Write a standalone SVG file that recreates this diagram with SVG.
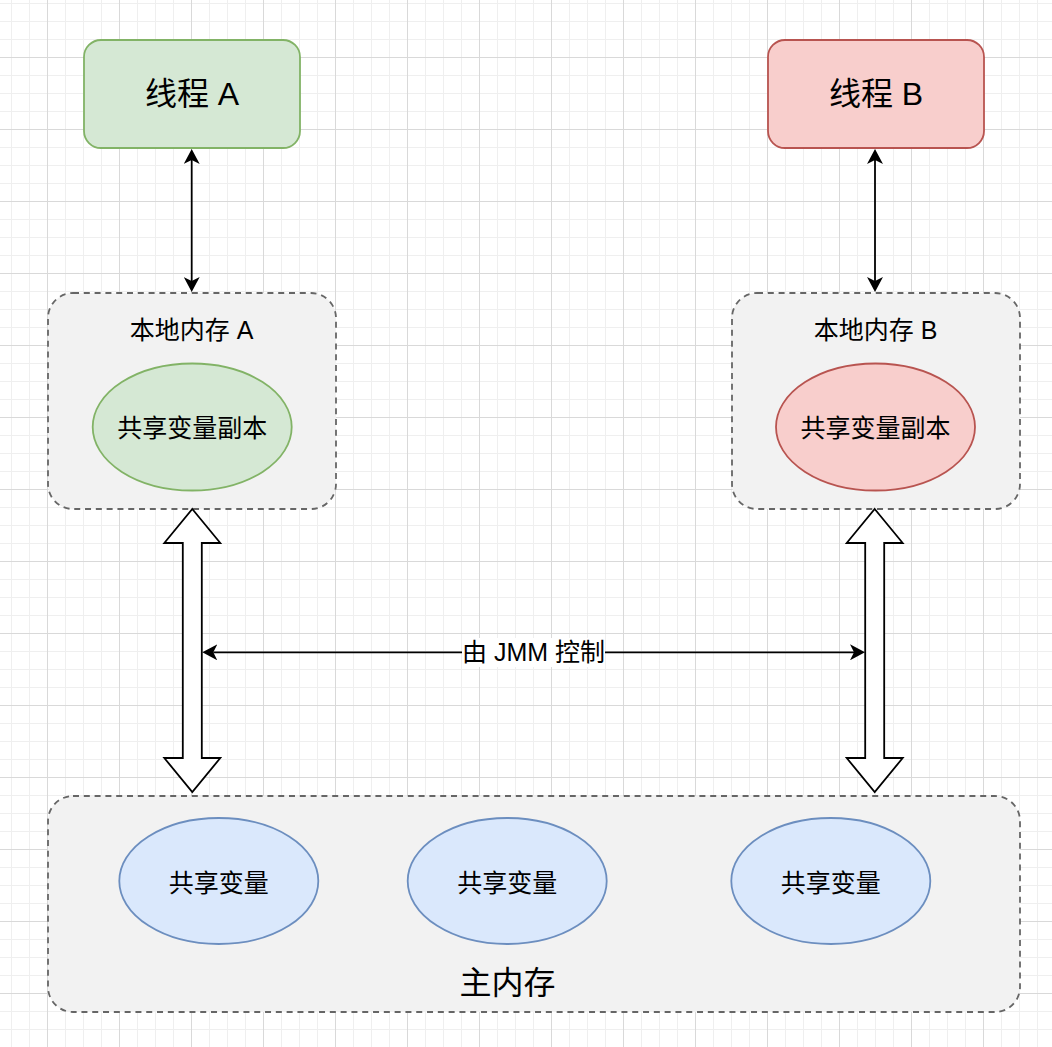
<svg xmlns="http://www.w3.org/2000/svg" width="1052" height="1047" viewBox="0 0 1052 1047">
<style>
text{font-family:"Liberation Sans","Noto Sans CJK SC",sans-serif;fill:#000;text-anchor:middle;dominant-baseline:central}
.t32{font-size:32px}
.t25{font-size:25px}
.box{fill:#f2f2f2;stroke:#666;stroke-width:1.8;stroke-dasharray:6 4.8}
.line{fill:none;stroke:#000;stroke-width:1.8}
.blk{fill:#fff;stroke:#000;stroke-width:1.8;stroke-linejoin:miter}
.green{fill:#d5e8d4;stroke:#82b366;stroke-width:1.8}
.red{fill:#f8cecc;stroke:#b85450;stroke-width:1.8}
.blue{fill:#dae8fc;stroke:#6c8ebf;stroke-width:1.8}
</style>
<defs>
<pattern id="grid" patternUnits="userSpaceOnUse" x="47" y="57" width="72" height="72">
<path d="M18.5,0V72M36.5,0V72M54.5,0V72M0,18.5H72M0,36.5H72M0,54.5H72" stroke="#efefef" stroke-width="1" fill="none"/>
<path d="M0.5,0V72M0,0.5H72" stroke="#d9d9d9" stroke-width="1" fill="none"/>
</pattern>
<marker id="arr" viewBox="0 0 15 16" refX="4" refY="8" markerWidth="15" markerHeight="16" markerUnits="userSpaceOnUse" orient="auto-start-reverse">
<path d="M0,0L15,8L0,16L4,8Z" fill="#000"/>
</marker>
</defs>
<rect x="0" y="0" width="1052" height="1047" fill="#fff"/>
<rect x="0" y="0" width="1052" height="1047" fill="url(#grid)"/>

<g id="thread-a">
<rect x="84" y="40" width="216" height="108" rx="17" ry="17" class="green"/>
<text x="192" y="94" class="t32">线程 A</text>
</g>
<g id="thread-b">
<rect x="768" y="40" width="216" height="108" rx="17" ry="17" class="red"/>
<text x="876" y="94" class="t32">线程 B</text>
</g>

<g id="local-a">
<rect x="48" y="293" width="288" height="216" rx="25" ry="25" class="box"/>
<text x="191.5" y="330" class="t25">本地内存 A</text>
</g>
<g id="copy-a">
<ellipse cx="192.2" cy="427" rx="99.5" ry="63.5" class="green"/>
<text x="192.2" y="428" class="t25">共享变量副本</text>
</g>
<g id="local-b">
<rect x="732" y="293" width="288" height="216" rx="25" ry="25" class="box"/>
<text x="875.5" y="330" class="t25">本地内存 B</text>
</g>
<g id="copy-b">
<ellipse cx="875.5" cy="427" rx="99.5" ry="63.5" class="red"/>
<text x="875.5" y="428" class="t25">共享变量副本</text>
</g>

<g id="main-memory">
<rect x="48" y="796" width="972" height="216" rx="25" ry="25" class="box"/>
<text x="507.5" y="983" class="t32">主内存</text>
</g>
<g id="var-1">
<ellipse cx="218.8" cy="881" rx="99.5" ry="63" class="blue"/>
<text x="218.8" y="882.5" class="t25">共享变量</text>
</g>
<g id="var-2">
<ellipse cx="507.2" cy="881" rx="99.5" ry="63" class="blue"/>
<text x="507.2" y="882.5" class="t25">共享变量</text>
</g>
<g id="var-3">
<ellipse cx="830.8" cy="881" rx="99.5" ry="63" class="blue"/>
<text x="830.8" y="882.5" class="t25">共享变量</text>
</g>

<g id="connectors">
<path d="M191.7,160V281" class="line" marker-start="url(#arr)" marker-end="url(#arr)"/>
<path d="M875,160V281" class="line" marker-start="url(#arr)" marker-end="url(#arr)"/>
<polygon points="192.3,509 220.3,543 201.8,543 201.8,758 220.3,758 192.3,792 164.3,758 182.8,758 182.8,543 164.3,543" class="blk"/>
<polygon points="874.7,509 902.7,543 884.2,543 884.2,758 902.7,758 874.7,792 846.7,758 865.2,758 865.2,543 846.7,543" class="blk"/>
<path d="M213.3,652.3H854" class="line" marker-start="url(#arr)" marker-end="url(#arr)"/>
<rect x="462" y="638" width="143" height="29" fill="#fff"/>
<text x="533.5" y="652.3" class="t25">由 JMM 控制</text>
</g>
</svg>
